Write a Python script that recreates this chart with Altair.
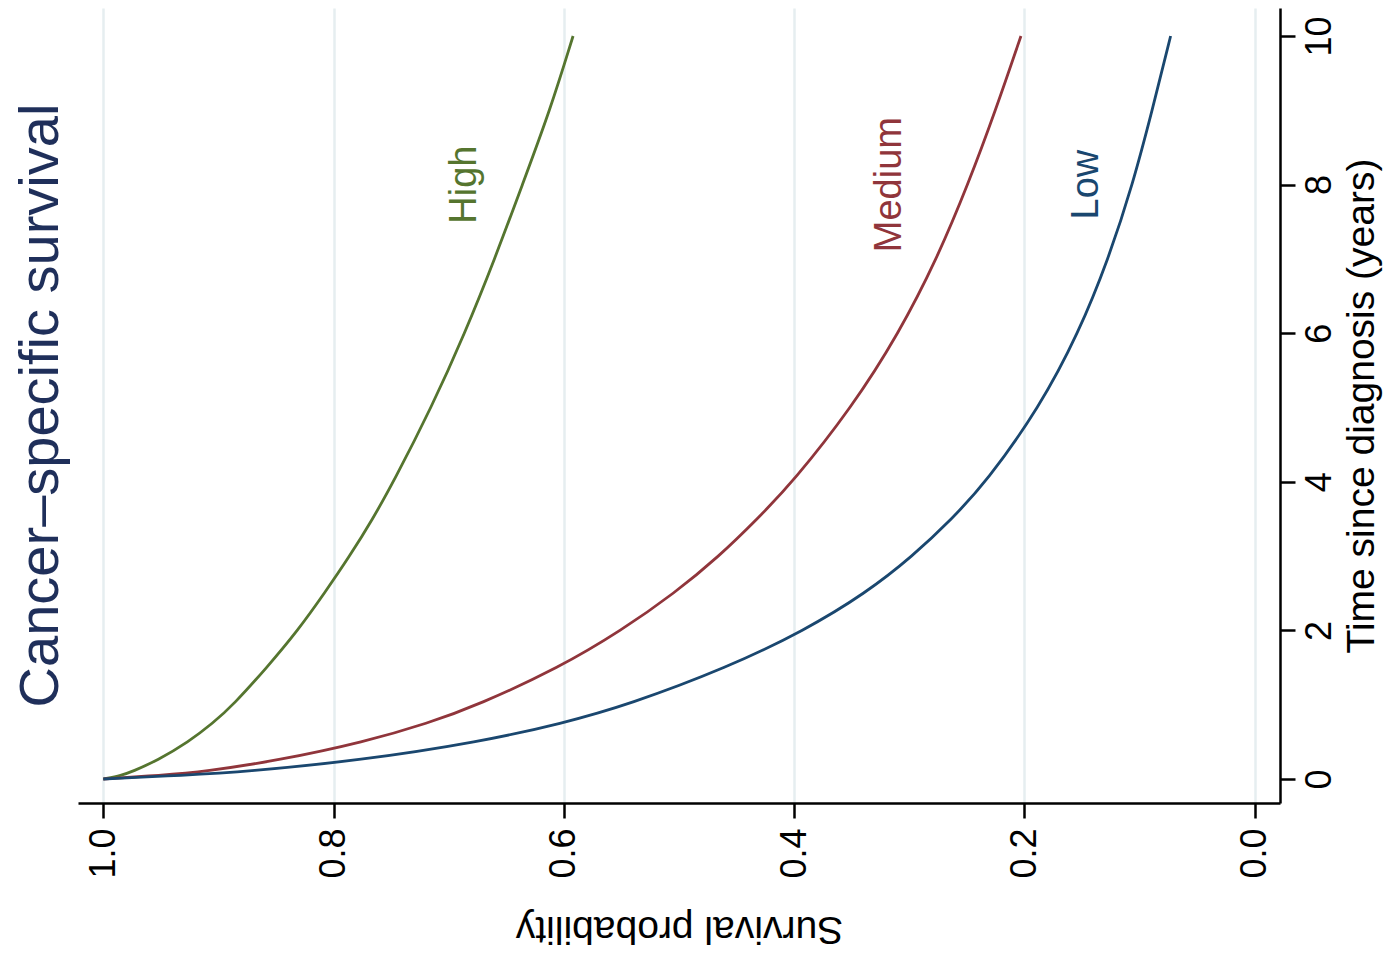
import altair as alt
import pandas as pd

# ---- data ----
groups = ["Low", "Medium", "High"]
colors = ["#1a476f", "#90353b", "#55752f"]

time_grid = [0, 0.05, 0.1, 0.25, 0.5, 0.75, 1, 1.5, 2, 2.5, 3, 3.5, 4, 5, 6, 7, 8, 9, 10]
high_s = [1.0, 0.984, 0.975, 0.953, 0.926, 0.905, 0.887, 0.858, 0.831, 0.808, 0.786, 0.766, 0.748, 0.715, 0.686, 0.660, 0.636, 0.612, 0.592]
med_s = [1.0, 0.950, 0.912, 0.848, 0.773, 0.718, 0.674, 0.604, 0.550, 0.504, 0.465, 0.432, 0.401, 0.350, 0.309, 0.276, 0.249, 0.225, 0.203]
low_s = [1.0, 0.930, 0.876, 0.777, 0.673, 0.601, 0.544, 0.458, 0.391, 0.338, 0.297, 0.263, 0.233, 0.187, 0.153, 0.127, 0.106, 0.089, 0.073]

label_names = ["High", "Medium", "Low"]
label_s = [0.6765, 0.307, 0.1365]
label_t = [8.0, 8.0, 8.0]

x_ticks = [0.0, 0.2, 0.4, 0.6, 0.8, 1.0]
y_ticks = [0, 2, 4, 6, 8, 10]

title_text = "Cancer\u2013specific survival"
x_title = "Survival probability"
y_title = "Time since diagnosis (years)"

# ---- tables ----
rows = []
for g, ss in [("High", high_s), ("Medium", med_s), ("Low", low_s)]:
    for t, s in zip(time_grid, ss):
        rows.append({"group": g, "t": t, "S": s})
df = pd.DataFrame(rows)
labels_df = pd.DataFrame({"group": label_names, "S": label_s, "t": label_t})

FONT = "Liberation Sans"

x_scale = alt.Scale(domain=[-0.022, 1.022], reverse=True, nice=False, zero=False)
y_scale = alt.Scale(domain=[-0.323, 10.377], nice=False, zero=False)
color_scale = alt.Scale(domain=groups, range=colors)

x_axis = alt.Axis(
    values=x_ticks, format=".1f", title=x_title,
    labelAngle=270, labelAlign="right", labelBaseline="middle",
    labelFontSize=36, labelPadding=10, labelColor="black", labelFont=FONT,
    tickSize=15, tickWidth=2.5, tickColor="black",
    domainColor="black", domainWidth=2.5,
    grid=True, gridColor="#e6eef0", gridWidth=2.5,
    titleAngle=180, titleFontSize=39, titleFontWeight="normal", titleFont=FONT,
    titleBaseline="alphabetic", titleAlign="center", titleX=601, titleY=113,
    titleColor="black",
)
y_axis = alt.Axis(
    orient="right", values=y_ticks, format="d", title=y_title,
    labelAngle=270, labelAlign="center", labelBaseline="top",
    labelFontSize=36, labelPadding=7, labelColor="black", labelFont=FONT,
    tickSize=15, tickWidth=2.5, tickColor="black",
    domainColor="black", domainWidth=2.5, grid=False,
    titleAngle=270, titleFontSize=39, titleFontWeight="normal", titleFont=FONT,
    titleBaseline="alphabetic", titleAlign="center", titleX=93, titleY=397.5,
    titleColor="black",
)

lines = alt.Chart(df).mark_line(strokeWidth=2.8, interpolate="basis").encode(
    x=alt.X("S:Q", scale=x_scale, axis=x_axis),
    y=alt.Y("t:Q", scale=y_scale, axis=y_axis),
    color=alt.Color("group:N", scale=color_scale, legend=None),
    order=alt.Order("t:Q"),
)

texts = alt.Chart(labels_df).mark_text(
    angle=270, align="center", baseline="alphabetic", fontSize=38, font=FONT
).encode(
    x=alt.X("S:Q", scale=x_scale),
    y=alt.Y("t:Q", scale=y_scale),
    text="group:N",
    color=alt.Color("group:N", scale=color_scale, legend=None),
)

chart = alt.layer(lines, texts).properties(
    width=1202, height=795,
    autosize=alt.AutoSizeParams(type="none"),
    padding={"left": 78, "top": 8, "right": 108, "bottom": 159},
    title=alt.TitleParams(
        title_text, orient="left", anchor="middle",
        fontSize=56, font=FONT, fontWeight="normal",
        color="#1f2f5a", offset=8,
    ),
    background="white",
).configure_view(stroke=None)

chart.save("out.html", embed_options={"renderer": "svg", "actions": False})
